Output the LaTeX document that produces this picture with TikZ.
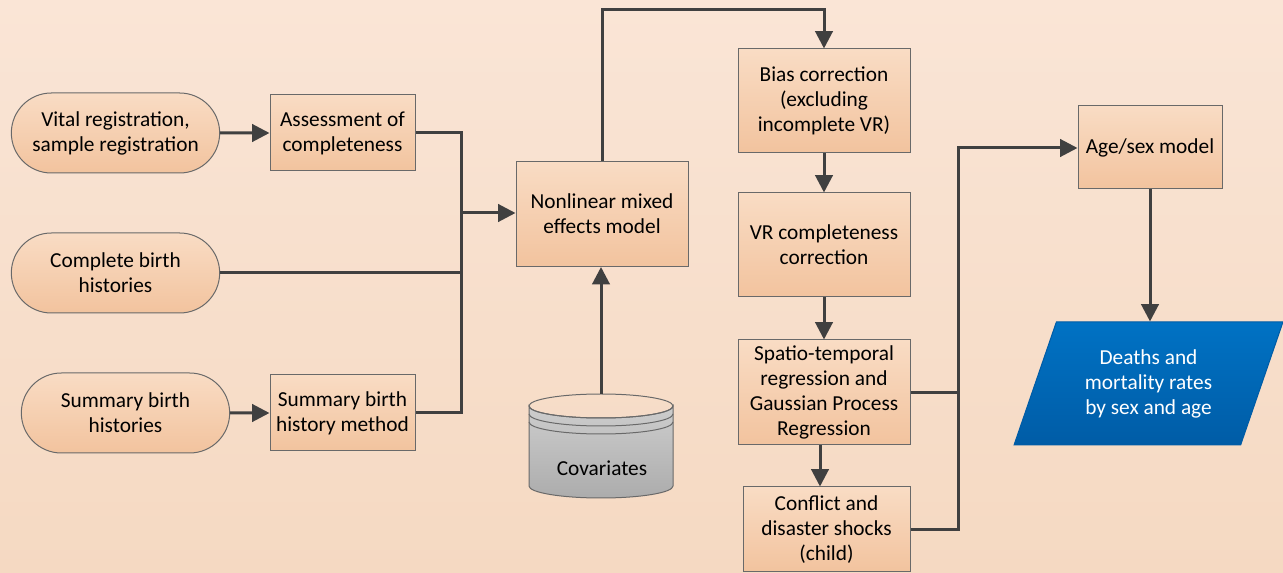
\documentclass[tikz,border=0pt]{standalone}
\usepackage{fontspec}
\setmainfont{Carlito}
\usetikzlibrary{arrows.meta,shapes.misc,shapes.geometric}
\definecolor{bgtop}{RGB}{250,229,214}
\definecolor{bgbot}{RGB}{245,217,194}
\definecolor{boxtop}{RGB}{249,220,196}
\definecolor{boxbot}{RGB}{242,195,158}
\definecolor{edge}{RGB}{105,105,105}
\definecolor{wire}{RGB}{64,64,64}
\definecolor{bluetop}{RGB}{0,114,196}
\definecolor{bluebot}{RGB}{0,92,166}
\definecolor{cyltop}{RGB}{205,205,205}
\definecolor{cylbot}{RGB}{172,172,172}
\newcommand{\boxfont}{\fontsize{16}{18.75}\selectfont}
\tikzset{every picture/.style={line width=0.75pt}}
\tikzset{
  procbox/.style={rectangle, draw=edge, line width=0.75pt, top color=boxtop, bottom color=boxbot,
    align=center, inner sep=1pt, font=\boxfont, text=black},
  termbox/.style={rounded rectangle, draw=edge, line width=0.75pt, top color=boxtop, bottom color=boxbot,
    align=center, inner sep=1pt, font=\boxfont, text=black, minimum width=158.25pt, minimum height=60pt},
  wireline/.style={draw=wire, line width=2.25pt},
  wirearrow/.style={wireline, -{Triangle[length=13pt,width=13pt]}},
}

\begin{document}
\begin{tikzpicture}[x=0.75pt,y=0.75pt,yscale=-1,xscale=1]
%Background
\useasboundingbox (0,0) rectangle (1283,573);
\fill [top color=bgtop, bottom color=bgbot] (0,0) rectangle (1283,573);

%Shape: Terminators
\node [termbox] (vital) at (115.5,133) {Vital registration,\\sample registration};
\node [termbox] (cbh) at (115.5,273) {Complete birth\\histories};
\node [termbox] (sbh) at (125.5,413) {Summary birth\\histories};

%Shape: Process boxes
\node [procbox, minimum width=108.75pt, minimum height=57pt] (assess) at (342.5,133) {Assessment of\\completeness};
\node [procbox, minimum width=108.75pt, minimum height=57pt] (sbhm) at (342.5,413) {Summary birth\\history method};
\node [procbox, minimum width=129pt, minimum height=78.75pt] (nlme) at (602,214) {Nonlinear mixed\\effects model};
\node [procbox, minimum width=129pt, minimum height=78pt] (bias) at (824,101) {Bias correction\\(excluding\\incomplete VR)};
\node [procbox, minimum width=129pt, minimum height=78pt] (vrc) at (824,245) {VR completeness\\correction};
\node [procbox, minimum width=129pt, minimum height=78.75pt] (gpr) at (824,392.5) {Spatio-temporal\\regression and\\Gaussian Process\\Regression};
\node [procbox, minimum width=125.25pt, minimum height=63.75pt] (shock) at (826.5,529.5) {Conflict and\\disaster shocks\\(child)};
\node [procbox, minimum width=108pt, minimum height=62.25pt] (agesex) at (1150,147.5) {Age/sex model};

%Shape: Output parallelogram
\node [trapezium, trapezium left angle=68, trapezium right angle=112, trapezium stretches=true,
  minimum width=201.75pt, minimum height=92.25pt, draw=bluebot, top color=bluetop, bottom color=bluebot,
  align=center, font=\boxfont, text=white] (result) at (1148.5,383.5) {Deaths and\\mortality rates\\by sex and age};

%Shape: Covariates cylinder
\path [draw=edge, top color=cyltop, bottom color=cylbot] (529,406) -- (529,486) arc (180:0:72 and 12) -- (673,406) arc (0:180:72 and 12) -- cycle;
\draw [edge] (601,406) ellipse (72 and 12);
\draw [edge] (529,414) arc (180:0:72 and 12);
\draw [edge] (529,422) arc (180:0:72 and 12);
\node [font=\boxfont, text=black] (cov) at (602,468) {Covariates};
\coordinate (covtop) at (601,394);

%Connector points
\coordinate (bus) at (461,213);
\coordinate (ceil) at (700,10);
\coordinate (join) at (958,148);

%Straight Lines
\draw [wirearrow] (vital) -- (assess);
\draw [wirearrow] (sbh) -- (sbhm);
\draw [wireline] (assess.east) -- (assess.east -| bus) -- (sbhm.east -| bus) -- (sbhm.east);
\draw [wireline] (cbh.east) -- (cbh.east -| bus);
\draw [wirearrow] (bus) -- (nlme.west |- bus);
\draw [wirearrow] (covtop) -- (covtop |- nlme.south);
\draw [wirearrow] (nlme.north) |- (ceil) -| (bias.north);
\draw [wirearrow] (bias) -- (vrc);
\draw [wirearrow] (vrc) -- (gpr);
\draw [wirearrow] (gpr.south -| 820,0) -- (shock.north -| 820,0);
\draw [wireline] (gpr.east) -- (gpr.east -| join);
\draw [wirearrow] (shock.east) -| (join) -- (agesex.west |- join);
\draw [wirearrow] (agesex.south) -- (agesex.south |- result.north);

\end{tikzpicture}
\end{document}
